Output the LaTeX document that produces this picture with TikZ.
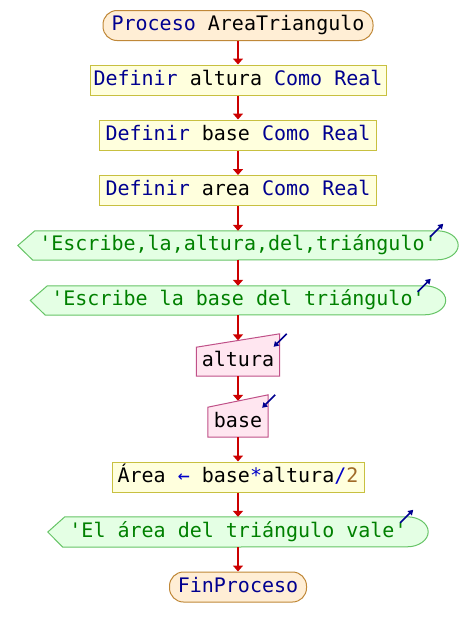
\documentclass[tikz,border=0pt]{standalone}
\usepackage{fontspec}
\newfontfamily\codefont{DejaVu Sans Mono}[Ligatures=TeXOff]
\usetikzlibrary{arrows.meta,backgrounds,calc}

\definecolor{kwblue}{HTML}{000090}
\definecolor{strgreen}{HTML}{008000}
\definecolor{numbrown}{HTML}{A06A28}
\definecolor{opblue}{HTML}{0000C8}
\definecolor{flowred}{HTML}{CC0000}
\definecolor{termfill}{HTML}{FFEED5}
\definecolor{termdraw}{HTML}{C08838}
\definecolor{procfill}{HTML}{FFFFDD}
\definecolor{procdraw}{HTML}{C8C040}
\definecolor{outfill}{HTML}{E4FFE4}
\definecolor{outdraw}{HTML}{66C466}
\definecolor{infill}{HTML}{FFE6F0}
\definecolor{indraw}{HTML}{C05088}

% syntax colouring of the pseudocode
\newcommand\kw[1]{\textcolor{kwblue}{#1}}
\newcommand\strlit[1]{\textcolor{strgreen}{#1}}
\newcommand\numlit[1]{\textcolor{numbrown}{#1}}
\newcommand\oper[1]{\textcolor{opblue}{#1}}

\tikzset{
  codetext/.style={font=\codefont\fontsize{20}{24}\selectfont, inner sep=0pt,
    text height=14.5pt, text depth=4.5pt, anchor=center},
  terminal/.style={codetext, draw=termdraw, fill=termfill, line width=1pt,
    rounded corners=14pt, minimum height=30pt},
  process/.style={codetext, draw=procdraw, fill=procfill, line width=1pt,
    minimum height=30pt},
  outnode/.style={codetext, minimum height=29pt},
  innode/.style={codetext, text height=20.5pt, text depth=4pt},
  outshape/.style={draw=outdraw, fill=outfill, line width=1pt},
  inshape/.style={draw=indraw, fill=infill, line width=1pt},
  flow/.style={draw=flowred, line width=2pt, -{Triangle[width=10pt,length=6pt]}},
  ioarrow/.style={draw=kwblue, line width=1.6pt, -{Triangle[width=6pt,length=5pt]}},
}

\begin{document}
\begin{tikzpicture}[x=1pt,y=1pt]
  \useasboundingbox (0,0) rectangle (476,-637);

  % blocks of the flowchart, top to bottom
  \node[terminal, minimum width=270pt] (t1) at (238,-25.5)
    {\kw{Proceso} AreaTriangulo};
  \node[process, minimum width=296pt] (d1) at (238,-80)
    {\kw{Definir} altura \kw{Como Real}};
  \node[process, minimum width=277pt] (d2) at (238,-135)
    {\kw{Definir} base \kw{Como Real}};
  \node[process, minimum width=277pt] (d3) at (238,-190.5)
    {\kw{Definir} area \kw{Como Real}};
  \node[outnode, minimum width=440pt] (o1) at (238,-245.5)
    {\strlit{'Escribe,la,altura,del,triángulo'}};
  \node[outnode, minimum width=415pt] (o2) at (238,-300.5)
    {\strlit{'Escribe la base del triángulo'}};
  \node[innode, minimum width=83pt, minimum height=35.5pt] (inA) at (238,-358.25)
    {altura};
  \node[innode, minimum width=60pt, minimum height=36pt] (inB) at (238,-419)
    {base};
  \node[process, minimum width=252pt] (a1) at (238,-477)
    {Área \oper{←} base\oper{*}altura\oper{/}\numlit{2}};
  \node[outnode, minimum width=380pt, minimum height=30pt] (o3) at (238,-532)
    {\strlit{'El área del triángulo vale'}};
  \node[terminal, minimum width=137pt] (t2) at (238,-587)
    {\kw{FinProceso}};

  % white page, then the outlines of the output and input blocks, behind their text
  \begin{scope}[on background layer]
    \fill[white] (0,0) rectangle (476,-637);
    \foreach \o/\r in {o1/14.5,o2/14.5,o3/15}{
      \path[outshape] (\o.west) -- ([xshift=17pt]\o.north west)
        -- ([xshift=-21pt]\o.north east)
        arc[start angle=90, end angle=-90, x radius=21pt, y radius=\r pt]
        -- ([xshift=15pt]\o.south west) -- cycle;
    }
    \path[inshape] (inA.south west) -- ++(0,29) -- ($(inA.north east)+(0,6.5)$)
      -- (inA.south east) -- cycle;
    \path[inshape] (inB.south west) -- ++(0,30) -- ($(inB.north east)+(0,6)$)
      -- (inB.south east) -- cycle;
  \end{scope}

  % small direction marks of the input/output blocks
  \foreach \o in {o1,o2,o3}{
    \draw[ioarrow] ($(\o.north east)+(-28,-6)$) -- ($(\o.north east)+(-15,7)$);
  }
  \draw[ioarrow] ($(inA.north east)+(7,6.5)$) -- ($(inA.north east)+(-6,-6.5)$);
  \draw[ioarrow] ($(inB.north east)+(7,6)$) -- ($(inB.north east)+(-6,-7)$);

  % flow connectors
  \draw[flow] (t1.south) -- (d1.north);
  \draw[flow] (d1.south) -- (d2.north);
  \draw[flow] (d2.south) -- (d3.north);
  \draw[flow] (d3.south) -- (o1.north);
  \draw[flow] (o1.south) -- (o2.north);
  \draw[flow] (o2.south) -- (inA.north);
  \draw[flow] (inA.south) -- (inB.north);
  \draw[flow] (inB.south) -- (a1.north);
  \draw[flow] (a1.south) -- (o3.north);
  \draw[flow] (o3.south) -- (t2.north);
\end{tikzpicture}
\end{document}
